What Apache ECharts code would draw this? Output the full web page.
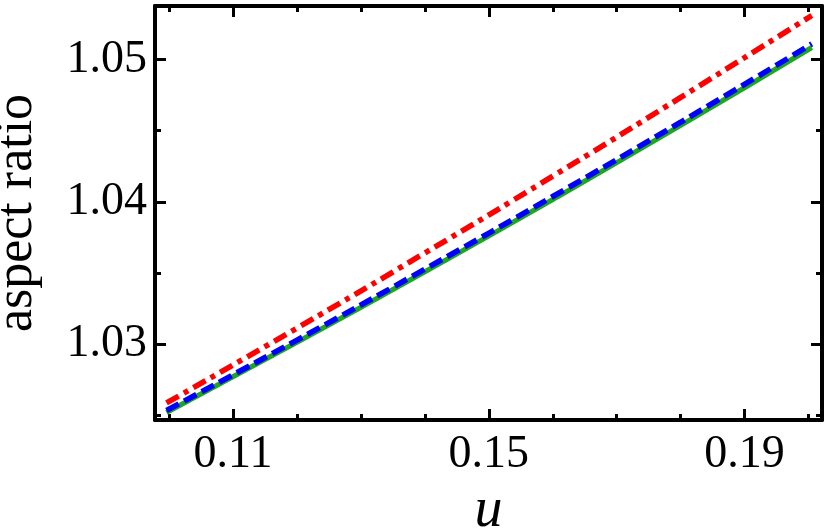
<!DOCTYPE html>
<html>
<head>
<meta charset="utf-8">
<script src="https://cdn.jsdelivr.net/npm/echarts@6/dist/echarts.min.js"></script>
<style>
html,body{margin:0;padding:0;background:#fff;}
#chart{width:830px;height:530px;}
</style>
</head>
<body>
<div id="chart"></div>
<script>
// Data
var uValues = [0.0996, 0.12, 0.14, 0.16, 0.18, 0.2005];
var redValues = [1.02585, 1.03111, 1.0364, 1.0418, 1.04734, 1.0531];
var blueValues = [1.02532, 1.03027, 1.03526, 1.04037, 1.0456, 1.0511];
var greenValues = [1.02518, 1.03012, 1.03508, 1.04016, 1.04537, 1.05085];
var xMajorTicks = [0.11, 0.15, 0.19];
var xMinorTicks = [0.10, 0.12, 0.13, 0.14, 0.16, 0.17, 0.18, 0.20];
var yMajorTicks = [1.03, 1.04, 1.05];
var yMinorTicks = [1.025, 1.035, 1.045];

var X_MIN = 0.0978, X_MAX = 0.2021, Y_MIN = 1.02465, Y_MAX = 1.05377;
var FONT = '"Liberation Serif", "Times New Roman", serif';

function pairs(xs, ys){ return xs.map(function(x,i){ return [x, ys[i]]; }); }

function xAxisDef(pos, ticks, len, showLabel, showLine){
  return {
    type:'value', position:pos, min:X_MIN, max:X_MAX,
    axisLine:{show:showLine, lineStyle:{color:'#000', width:4}},
    axisTick:{show:true, inside:true, length:len, customValues:ticks, lineStyle:{color:'#000', width:3}},
    axisLabel:{show:showLabel, customValues:ticks, formatter:function(v){return v.toFixed(2);},
      color:'#000', fontFamily:FONT, fontSize:46, margin:12},
    splitLine:{show:false}
  };
}
function yAxisDef(pos, ticks, len, showLabel, showLine){
  return {
    type:'value', position:pos, min:Y_MIN, max:Y_MAX,
    axisLine:{show:showLine, lineStyle:{color:'#000', width:4}},
    axisTick:{show:true, inside:true, length:len, customValues:ticks, lineStyle:{color:'#000', width:3}},
    axisLabel:{show:showLabel, customValues:ticks, formatter:function(v){return v.toFixed(2);},
      color:'#000', fontFamily:FONT, fontSize:46, margin:8},
    splitLine:{show:false}
  };
}

var xAxes = [
  xAxisDef('bottom', xMajorTicks, 11, true, true),
  xAxisDef('bottom', xMinorTicks, 6, false, false),
  xAxisDef('top', xMajorTicks, 11, false, true),
  xAxisDef('top', xMinorTicks, 6, false, false)
];
xAxes[0].name = 'u';
xAxes[0].nameLocation = 'middle';
xAxes[0].nameGap = 62;
xAxes[0].nameTextStyle = {fontFamily:FONT, fontStyle:'italic', fontSize:56, color:'#000'};

var yAxes = [
  yAxisDef('left', yMajorTicks, 11, true, true),
  yAxisDef('left', yMinorTicks, 6, false, false),
  yAxisDef('right', yMajorTicks, 11, false, true),
  yAxisDef('right', yMinorTicks, 6, false, false)
];
yAxes[0].name = 'aspect ratio';
yAxes[0].nameLocation = 'middle';
yAxes[0].nameGap = 112;
yAxes[0].nameRotate = 90;
yAxes[0].nameTextStyle = {fontFamily:FONT, fontSize:52, color:'#000'};

var chart = echarts.init(document.getElementById('chart'), null, {renderer:'canvas'});
chart.setOption({
  animation:false,
  backgroundColor:'#fff',
  grid:{left:155, right:8, top:6, bottom:110, containLabel:false, outerBoundsMode:'none'},
  xAxis:xAxes,
  yAxis:yAxes,
  series:[
    {type:'line', name:'green', data:pairs(uValues, greenValues), smooth:true, symbol:'none',
      lineStyle:{color:'#1fa61f', width:5, type:'solid', cap:'butt'}, z:2},
    {type:'line', name:'blue', data:pairs(uValues, blueValues), smooth:true, symbol:'none',
      lineStyle:{color:'#0000ff', width:5.5, type:[14,6], cap:'butt'}, z:3},
    {type:'line', name:'red', data:pairs(uValues, redValues), smooth:true, symbol:'none',
      lineStyle:{color:'#ff0000', width:5.5, type:[14,6,5,6], cap:'butt'}, z:4}
  ]
});
</script>
</body>
</html>
